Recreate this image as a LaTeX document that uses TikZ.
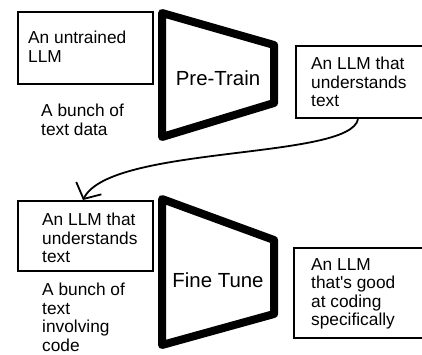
\documentclass[tikz,border=0pt]{standalone}
\usepackage{fontspec}
\setmainfont{Liberation Sans}
\usetikzlibrary{arrows.meta}
\begin{document}
\begin{tikzpicture}[x=1pt,y=-1pt,
  box/.style={draw=black, line width=2.2pt, inner sep=0pt, anchor=north west},
  txt/.style={anchor=north west, inner sep=0pt, align=left,
    font=\fontsize{17.3}{18.5}\selectfont},
  stage/.style={anchor=base, inner sep=0pt, font=\fontsize{20.4}{22}\selectfont},
  funnel/.style={draw=black, line width=8pt, line join=round},
  link/.style={draw=black, line width=1.8pt,
    -{Straight Barb[length=12pt,width=28pt]}}]
  \fill[white] (0,0) rectangle (422,354);
  \useasboundingbox (0,0) rectangle (422,354);
  \clip (0,0) rectangle (422,354);

  % pre-training stage
  \node[box, minimum width=135pt, minimum height=72pt] (b1) at (17,11) {};
  \node[txt] (t1) at (28,31) {An untrained\\LLM};
  \node[txt] (d1) at (41,104) {A bunch of\\text data};
  \draw[funnel] (162,13) -- (274,45) -- (274,103) -- (162,137) -- cycle;
  \node[stage] (pt) at (218,85) {Pre-Train};
  \node[box, minimum width=150pt, minimum height=72pt] (b2) at (295,45) {};
  \node[txt] (t2) at (311,57) {An LLM that\\understands\\text};

  % fine-tuning stage
  \node[box, minimum width=135pt, minimum height=70pt] (b3) at (17,200) {};
  \node[txt] (t3) at (42,213) {An LLM that\\understands\\text};
  \node[txt] (d3) at (42,283) {A bunch of\\text\\involving\\code};
  \draw[funnel] (162,199) -- (274,240) -- (274,314) -- (162,345) -- cycle;
  \node[stage] (ft) at (218,287) {Fine Tune};
  \node[box, minimum width=150pt, minimum height=90pt] (b4) at (293,247) {};
  \node[txt] (t4) at (311,258) {An LLM\\that\textquotesingle s good\\at coding\\specifically};

  % the pre-trained model becomes the input of fine-tuning
  \draw[link] ([xshift=63pt]b2.south west) .. controls (350,160) and (110,145) .. ([xshift=66pt]b3.north west);
\end{tikzpicture}
\end{document}
